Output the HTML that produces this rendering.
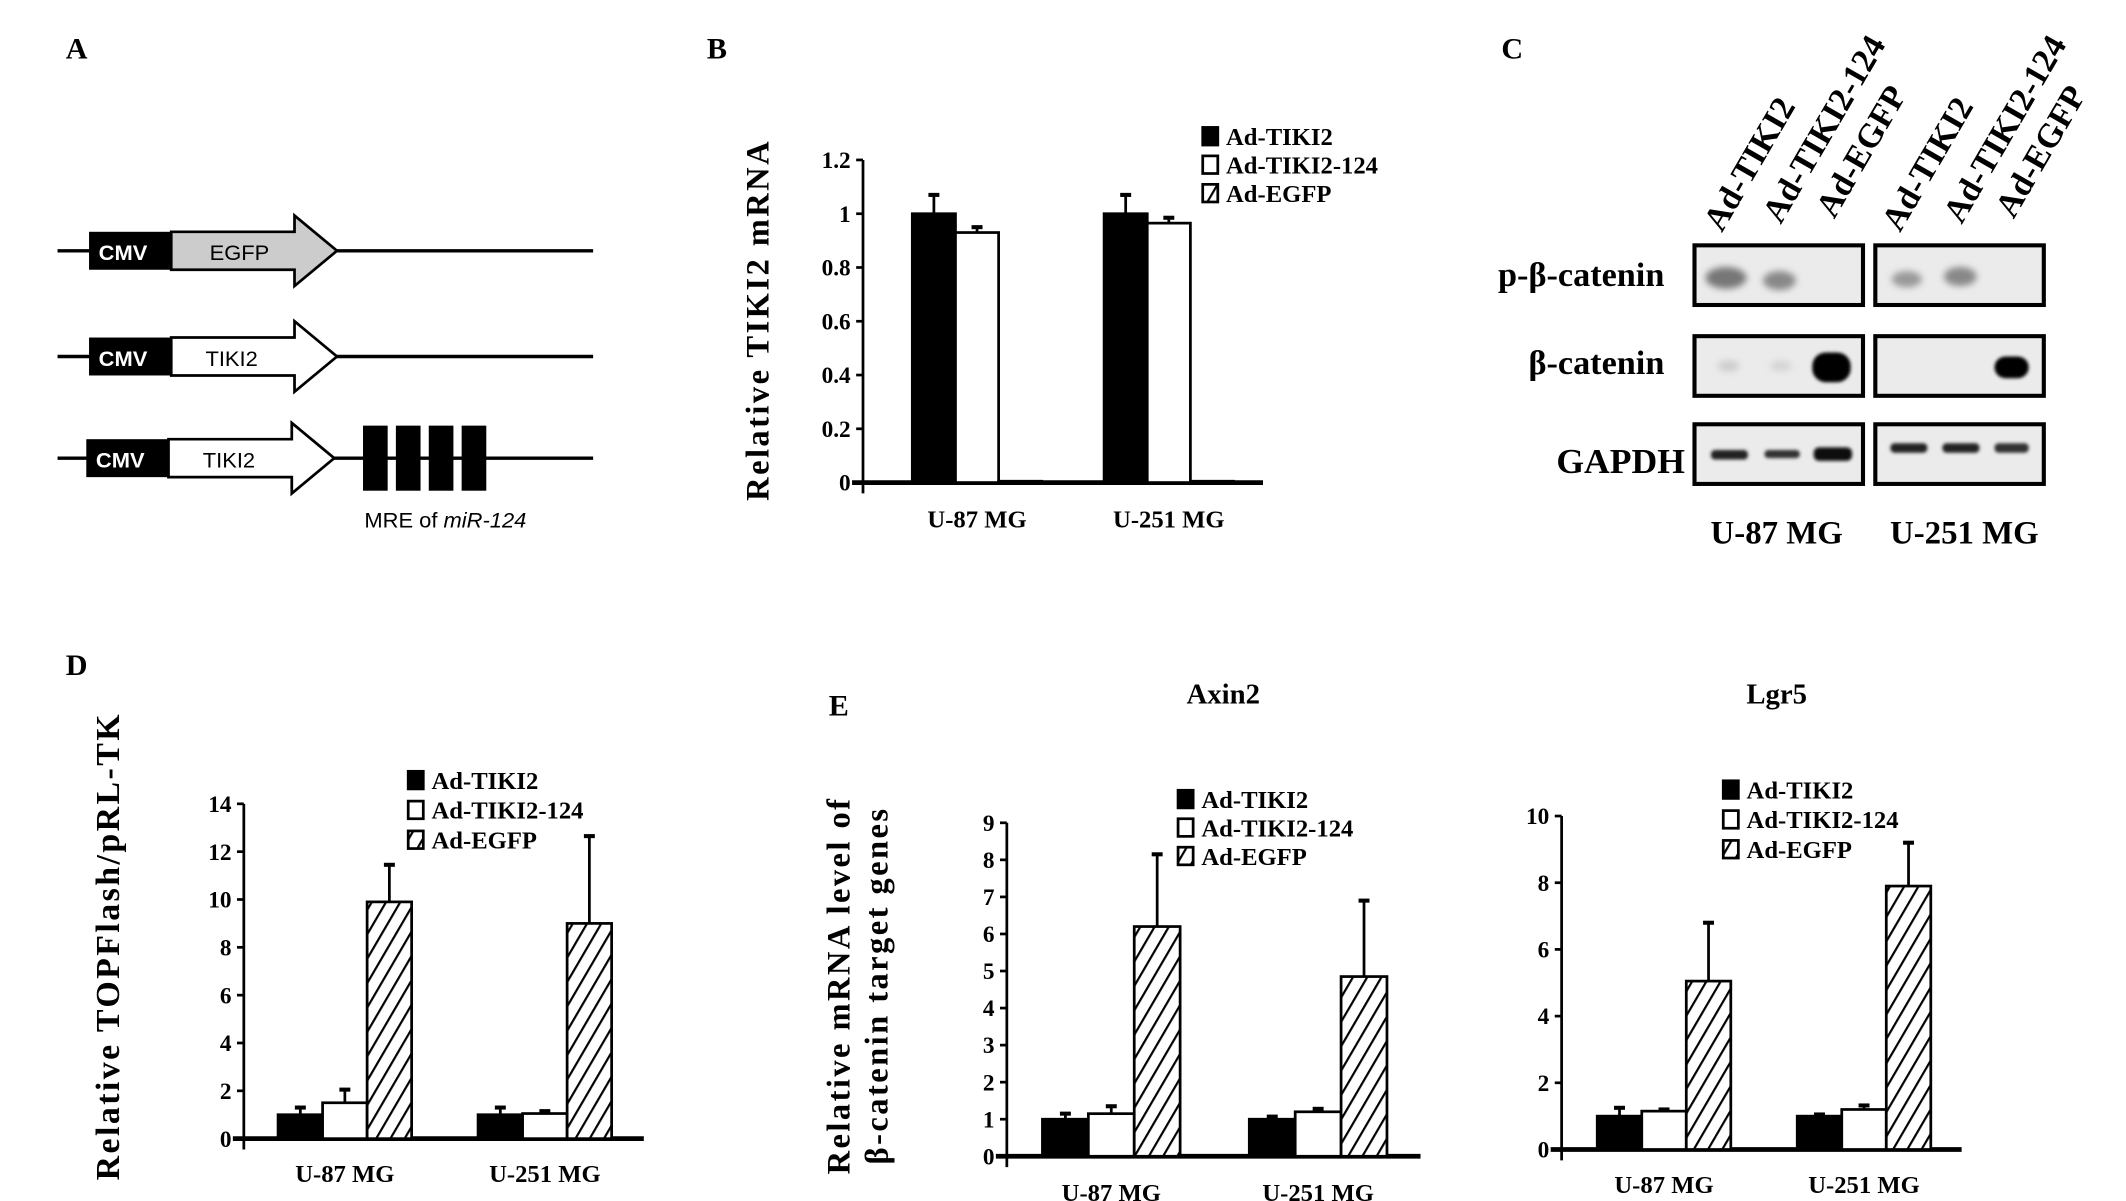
<!DOCTYPE html>
<html><head><meta charset="utf-8"><style>
html,body{margin:0;padding:0;background:#fff;}
svg{display:block;}
text{font-family:"Liberation Serif",serif;font-weight:bold;fill:#000;}
.sans{font-family:"Liberation Sans",sans-serif;}
</style></head><body>
<svg id="fig" width="2126" height="1201" viewBox="0 0 1552 886" preserveAspectRatio="none" xmlns="http://www.w3.org/2000/svg">
<defs>
<pattern id="hatch" patternUnits="userSpaceOnUse" width="9" height="9" patternTransform="rotate(30)">
<rect width="9" height="9" fill="#fff"/><line x1="0" y1="0" x2="0" y2="9" stroke="#000" stroke-width="3.2"/>
</pattern>
<filter id="blur2"><feGaussianBlur stdDeviation="2.5"/></filter>
<filter id="blur1"><feGaussianBlur stdDeviation="1.2"/></filter>
</defs>

<text x="48" y="43" font-size="22">A</text>
<text x="516" y="43" font-size="22">B</text>
<text x="1096" y="43" font-size="22">C</text>
<text x="48" y="498" font-size="22">D</text>
<text x="605" y="528" font-size="22">E</text>

<g>
<line x1="42" y1="185" x2="433" y2="185" stroke="#000" stroke-width="2.5"/>
<polygon points="125,171 215,171 215,159 246,185 215,211 215,199 125,199" fill="#ccc" stroke="#000" stroke-width="2"/>
<rect x="65" y="171" width="60" height="28" fill="#000"/>
<text class="sans" x="72" y="192" font-size="16" style="fill:#fff">CMV</text>
<text class="sans" x="153" y="192" font-size="16" style="font-weight:normal">EGFP</text>
</g>
<g>
<line x1="42" y1="263" x2="433" y2="263" stroke="#000" stroke-width="2.5"/>
<polygon points="125,249 215,249 215,237 246,263 215,289 215,277 125,277" fill="#fff" stroke="#000" stroke-width="2"/>
<rect x="65" y="249" width="60" height="28" fill="#000"/>
<text class="sans" x="72" y="270" font-size="16" style="fill:#fff">CMV</text>
<text class="sans" x="150" y="270" font-size="16" style="font-weight:normal">TIKI2</text>
</g>
<g>
<line x1="42" y1="338" x2="433" y2="338" stroke="#000" stroke-width="2.5"/>
<polygon points="123,324 213,324 213,312 244,338 213,364 213,352 123,352" fill="#fff" stroke="#000" stroke-width="2"/>
<rect x="63" y="324" width="60" height="28" fill="#000"/>
<text class="sans" x="70" y="345" font-size="16" style="fill:#fff">CMV</text>
<text class="sans" x="148" y="345" font-size="16" style="font-weight:normal">TIKI2</text>
<rect x="265" y="314" width="18" height="48" fill="#000"/>
<rect x="289" y="314" width="18" height="48" fill="#000"/>
<rect x="313" y="314" width="18" height="48" fill="#000"/>
<rect x="337" y="314" width="18" height="48" fill="#000"/>
<text class="sans" x="266" y="389" font-size="16" style="font-weight:normal">MRE of <tspan font-style="italic">miR-124</tspan></text>
</g>

<g>
<g font-size="25">
<text transform="translate(1257,172) rotate(-60)">Ad-TIKI2</text>
<text transform="translate(1300,166) rotate(-60)">Ad-TIKI2-124</text>
<text transform="translate(1339,162) rotate(-60)">Ad-EGFP</text>
<text transform="translate(1387,172) rotate(-60)">Ad-TIKI2</text>
<text transform="translate(1432,166) rotate(-60)">Ad-TIKI2-124</text>
<text transform="translate(1470,162) rotate(-60)">Ad-EGFP</text>
</g>
<g font-size="25">
<text x="1215" y="211" text-anchor="end">p-β-catenin</text>
<text x="1215" y="276" text-anchor="end">β-catenin</text>
<text x="1230" y="349" text-anchor="end" font-size="26">GAPDH</text>
</g>
<g stroke="#000" stroke-width="3" fill="#ebebeb">
<rect x="1237" y="181" width="123" height="44"/><rect x="1369" y="181" width="123" height="44"/>
<rect x="1237" y="248" width="123" height="44"/><rect x="1369" y="248" width="123" height="44"/>
<rect x="1237" y="313" width="123" height="44"/><rect x="1369" y="313" width="123" height="44"/>
</g>
<g filter="url(#blur2)">
<ellipse cx="1260" cy="205" rx="15" ry="8" fill="#777"/>
<ellipse cx="1299" cy="207" rx="12" ry="7" fill="#888"/>
<ellipse cx="1392" cy="206" rx="11" ry="6" fill="#999"/>
<ellipse cx="1431" cy="204" rx="12" ry="7" fill="#888"/>
<ellipse cx="1262" cy="270" rx="8" ry="4" fill="#ccc"/>
<ellipse cx="1300" cy="270" rx="8" ry="4" fill="#d4d4d4"/>
</g>
<g filter="url(#blur1)">
<rect x="1323" y="260" width="28" height="22" rx="10" fill="#000"/>
<rect x="1456" y="263" width="25" height="16" rx="8" fill="#000"/>
<rect x="1249" y="332" width="27" height="7" rx="3" fill="#222"/>
<rect x="1288" y="332" width="26" height="6" rx="3" fill="#333"/>
<rect x="1324" y="330" width="28" height="10" rx="4" fill="#111"/>
<rect x="1380" y="327" width="27" height="7" rx="3" fill="#222"/>
<rect x="1418" y="327" width="27" height="7" rx="3" fill="#222"/>
<rect x="1456" y="327" width="25" height="7" rx="3" fill="#333"/>
</g>
<text x="1297" y="401" font-size="24" text-anchor="middle">U-87 MG</text>
<text x="1434" y="401" font-size="24" text-anchor="middle">U-251 MG</text>
</g>

<g id="charts"></g>
</svg>
<script>
const categories = ["U-87 MG", "U-251 MG"];
const seriesNames = ["Ad-TIKI2", "Ad-TIKI2-124", "Ad-EGFP"];
const bValues = [[1, 0.93, 0.005], [1, 0.965, 0.005]];
const bErrors = [[0.07, 0.02, 0.0], [0.07, 0.02, 0.0]];
const bTicks = ["0", "0.2", "0.4", "0.6", "0.8", "1", "1.2"];
const dValues = [[1, 1.5, 9.9], [1, 1.05, 9.0]];
const dErrors = [[0.3, 0.55, 1.55], [0.3, 0.1, 3.65]];
const dTicks = ["0", "2", "4", "6", "8", "10", "12", "14"];
const axinValues = [[1, 1.15, 6.2], [1, 1.2, 4.85]];
const axinErrors = [[0.15, 0.2, 1.95], [0.07, 0.08, 2.05]];
const axinTicks = ["0", "1", "2", "3", "4", "5", "6", "7", "8", "9"];
const lgrValues = [[1, 1.15, 5.05], [1, 1.2, 7.9]];
const lgrErrors = [[0.25, 0.05, 1.75], [0.05, 0.12, 1.3]];
const lgrTicks = ["0", "2", "4", "6", "8", "10"];

const NS = "http://www.w3.org/2000/svg";
const root = document.getElementById("charts");
function el(tag, attrs, parent) {
  const e = document.createElementNS(NS, tag);
  for (const k in attrs) e.setAttribute(k, attrs[k]);
  (parent || root).appendChild(e);
  return e;
}
function drawChart(cfg, values, errors, ticks) {
  const g = el("g", {});
  
  
  const yMax = parseFloat(ticks[ticks.length - 1]);
  const y = v => cfg.y0 - (v / yMax) * (cfg.y0 - cfg.yTop);
  const ya = el("line", {x1: cfg.ax, y1: cfg.yTop, x2: cfg.ax, y2: cfg.y0 + 8, stroke: "#000", "stroke-width": 2}, g);
  
  
  ticks.forEach(t => {
    const ty = y(parseFloat(t));
    el("line", {x1: cfg.ax - 5, y1: ty, x2: cfg.ax, y2: ty, stroke: "#000", "stroke-width": 2}, g);
    const tl = el("text", {x: cfg.ax - 9, y: ty + 6, "font-size": 17, "text-anchor": "end"}, g);
    tl.textContent = t;
    
    
  });
  const xa = el("line", {x1: cfg.ax - 8, y1: cfg.y0, x2: cfg.xEnd, y2: cfg.y0, stroke: "#000", "stroke-width": 3.5}, g);
  
  
  categories.forEach((c, ci) => {
    values[ci].forEach((v, si) => {
      const x = cfg.starts[ci] + si * cfg.bw;
      const fill = si === 0 ? "#000" : si === 1 ? "#fff" : "url(#hatch)";
      const top = y(v);
      const r = el("rect", {x: x, y: top, width: cfg.bw, height: Math.max(cfg.y0 - top, 0.5), fill: fill, stroke: "#000", "stroke-width": 2}, g);
      
      
      const e = errors[ci][si];
      if (e > 0) {
        const cx = x + cfg.bw / 2, ey = y(v + e);
        const eb = el("line", {x1: cx, y1: top, x2: cx, y2: ey, stroke: "#000", "stroke-width": 2}, g);
        
        
        el("line", {x1: cx - 4, y1: ey, x2: cx + 4, y2: ey, stroke: "#000", "stroke-width": 3}, g);
      }
    });
    const cl = el("text", {x: cfg.starts[ci] + cfg.bw * 1.5, y: cfg.labelY, "font-size": 18, "text-anchor": "middle"}, g);
    cl.textContent = c;
    
    
  });
  seriesNames.forEach((s, si) => {
    const ly = cfg.legY + si * cfg.legGap;
    const fill = si === 0 ? "#000" : si === 1 ? "#fff" : "url(#hatch)";
    el("rect", {x: cfg.legX, y: ly - 12, width: 11, height: 13, fill: fill, stroke: "#000", "stroke-width": 2}, g);
    const lt = el("text", {x: cfg.legX + 17, y: ly + 1, "font-size": 18}, g);
    lt.textContent = s;
    
    
  });
  if (cfg.title) {
    const tt = el("text", {x: cfg.titleX, y: cfg.titleY, "font-size": 21, "text-anchor": "middle"}, g);
    tt.textContent = cfg.title;
    
    
  }
  if (cfg.ytitle) {
    cfg.ytitle.forEach((line, i) => {
      const yt = el("text", {transform: `translate(${cfg.ytX + i * 28},${cfg.ytY}) rotate(-90)`, "font-size": cfg.ytSize, "text-anchor": "middle", "letter-spacing": "1.8"}, g);
      yt.textContent = line;
      
      
    });
  }
}
drawChart({name: "chart-b-tiki2-mrna", ax: 630, y0: 356, yTop: 118, xEnd: 922, bw: 31.5, starts: [666, 806], labelY: 389,
  legX: 878, legY: 106, legGap: 21, ytitle: ["Relative TIKI2 mRNA"], ytX: 561, ytY: 236, ytSize: 24}, bValues, bErrors, bTicks);
drawChart({name: "chart-d-topflash", ax: 178, y0: 840, yTop: 593, xEnd: 470, bw: 32.5, starts: [203, 349], labelY: 872,
  legX: 298, legY: 581, legGap: 22, ytitle: ["Relative TOPFlash/pRL-TK"], ytX: 87, ytY: 698, ytSize: 25}, dValues, dErrors, dTicks);
drawChart({name: "chart-e-axin2", ax: 735, y0: 853, yTop: 607, xEnd: 1037, bw: 33.5, starts: [761, 912], labelY: 886,
  legX: 860, legY: 595, legGap: 21, title: "Axin2", titleX: 893, titleY: 519,
  ytitle: ["Relative mRNA level of", "β-catenin target genes"], ytX: 620, ytY: 727, ytSize: 24}, axinValues, axinErrors, axinTicks);
drawChart({name: "chart-e-lgr5", ax: 1140, y0: 848, yTop: 602, xEnd: 1432, bw: 32.5, starts: [1166, 1312], labelY: 880,
  legX: 1258, legY: 588, legGap: 22, title: "Lgr5", titleX: 1297, titleY: 519}, lgrValues, lgrErrors, lgrTicks);
</script>
</body></html>
